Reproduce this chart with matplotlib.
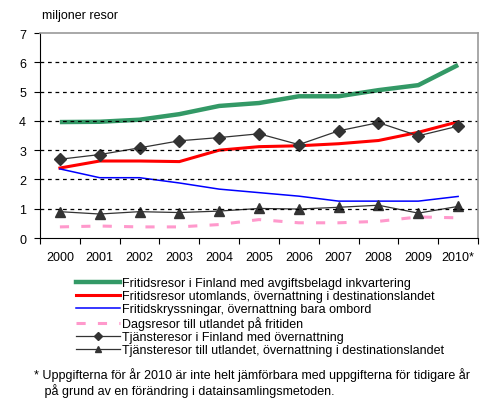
import matplotlib.pyplot as plt
from matplotlib.lines import Line2D

years = ['2000', '2001', '2002', '2003', '2004', '2005', '2006', '2007', '2008', '2009', '2010*']
fritid_finland = [3.96, 3.97, 4.04, 4.23, 4.51, 4.61, 4.84, 4.84, 5.05, 5.22, 5.91]
fritid_utomlands = [2.39, 2.63, 2.63, 2.61, 3.00, 3.12, 3.15, 3.22, 3.33, 3.61, 3.97]
kryssningar = [2.36, 2.06, 2.06, 1.88, 1.67, 1.55, 1.43, 1.26, 1.26, 1.26, 1.42]
dagsresor = [0.38, 0.41, 0.38, 0.38, 0.46, 0.63, 0.52, 0.52, 0.57, 0.72, 0.69]
tjanst_finland = [2.69, 2.85, 3.08, 3.32, 3.43, 3.56, 3.19, 3.66, 3.94, 3.49, 3.82]
tjanst_utland = [0.90, 0.82, 0.90, 0.87, 0.92, 1.01, 0.99, 1.05, 1.12, 0.85, 1.08]

labels = [
    'Fritidsresor i Finland med avgiftsbelagd inkvartering',
    'Fritidsresor utomlands, övernattning i destinationslandet',
    'Fritidskryssningar, övernattning bara ombord',
    'Dagsresor till utlandet på fritiden',
    'Tjänsteresor i Finland med övernattning',
    'Tjänsteresor till utlandet, övernattning i destinationslandet',
]

plt.rcParams['font.family'] = ['Liberation Sans', 'DejaVu Sans']
fs = 9
fig = plt.figure(figsize=(4.9, 4.1), dpi=100)
ax = fig.add_axes([0.0816, 0.417, 0.894, 0.5])

x = list(range(len(years)))
ax.plot(x, fritid_finland, color='#339966', lw=3.2, solid_capstyle='butt')
ax.plot(x, fritid_utomlands, color='#ff0000', lw=2.2)
ax.plot(x, kryssningar, color='#0000ff', lw=1.1)
ax.plot(x, dagsresor, color='#ff99cc', lw=2.2, dashes=(3, 4))
ax.plot(x, tjanst_finland, color='#333333', lw=0.9, marker='D', ms=6.5)
ax.plot(x, tjanst_utland, color='#333333', lw=0.9, marker='^', ms=7)

ax.set_xlim(-0.5, len(years) - 0.5)
ax.set_ylim(0, 7)
ax.set_yticks(range(8))
ax.set_xticks([i - 0.5 for i in range(len(years) + 1)])
ax.set_xticklabels([])
ax.set_xticks(x, minor=True)
ax.set_xticklabels(years, minor=True)
ax.tick_params(axis='x', which='minor', length=0, pad=9, labelsize=fs)
ax.tick_params(axis='x', which='major', length=4, direction='out')
ax.tick_params(axis='y', length=4, direction='out', labelsize=fs, pad=6)
for yv in range(1, 7):
    ax.axhline(yv, color='black', lw=0.9, dashes=(3, 3))
ax.spines['top'].set_color('#999999')
ax.spines['right'].set_color('#999999')
ax.spines['top'].set_linewidth(1.2)
ax.spines['right'].set_linewidth(1.2)

fig.text(0.086, 0.96, 'miljoner resor', fontsize=fs, va='center')

handles = [
    Line2D([], [], color='#339966', lw=3.2),
    Line2D([], [], color='#ff0000', lw=2.2),
    Line2D([], [], color='#0000ff', lw=1.1),
    Line2D([], [], color='#ff99cc', lw=2.2, dashes=(3, 4)),
    Line2D([], [], color='#333333', lw=0.9, marker='D', ms=4),
    Line2D([], [], color='#333333', lw=0.9, marker='^', ms=4),
]
fig.legend(handles, labels, loc='upper left', bbox_to_anchor=(0.155, 0.321), frameon=False,
           fontsize=fs, handlelength=3.5, handletextpad=0.15, labelspacing=0.08,
           borderpad=0, borderaxespad=0)

fig.text(0.07, 0.066, '* Uppgifterna för år 2010 är inte helt jämförbara med uppgifterna för tidigare år\n   på grund av en förändring i datainsamlingsmetoden.',
         fontsize=fs, va='center', linespacing=1.15)

fig.savefig('out.png', dpi=100)
